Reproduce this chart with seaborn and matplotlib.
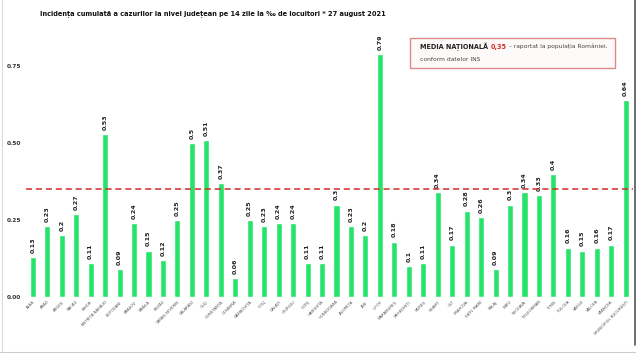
import matplotlib
matplotlib.use("Agg")
import matplotlib.pyplot as plt
import seaborn as sns
import pandas as pd
from matplotlib.patches import Rectangle

# Date: incidenta pe judete
judete = ['ALBA', 'ARAD', 'ARGEȘ', 'BACĂU', 'BIHOR', 'BISTRIȚA-NĂSĂUD', 'BOTOȘANI', 'BRAȘOV',
          'BRĂILA', 'BUZĂU', 'CARAȘ-SEVERIN', 'CĂLĂRAȘI', 'CLUJ', 'CONSTANȚA', 'COVASNA',
          'DÂMBOVIȚA', 'DOLJ', 'GALAȚI', 'GIURGIU', 'GORJ', 'HARGHITA', 'HUNEDOARA', 'IALOMIȚA',
          'IAȘI', 'ILFOV', 'MARAMUREȘ', 'MEHEDINȚI', 'MUREȘ', 'NEAMȚ', 'OLT', 'PRAHOVA',
          'SATU MARE', 'SĂLAJ', 'SIBIU', 'SUCEAVA', 'TELEORMAN', 'TIMIȘ', 'TULCEA', 'VASLUI',
          'VÂLCEA', 'VRANCEA', 'MUNICIPIUL BUCUREȘTI']
incidenta = [0.13, 0.23, 0.2, 0.27, 0.11, 0.53, 0.09, 0.24, 0.15, 0.12, 0.25, 0.5, 0.51, 0.37,
             0.06, 0.25, 0.23, 0.24, 0.24, 0.11, 0.11, 0.3, 0.23, 0.2, 0.79, 0.18, 0.1, 0.11,
             0.34, 0.17, 0.28, 0.26, 0.09, 0.3, 0.34, 0.33, 0.4, 0.16, 0.15, 0.16, 0.17, 0.64]
media_nationala = 0.35
yticks = [0.0, 0.25, 0.5, 0.75]

df = pd.DataFrame({'judet': judete, 'incidenta': incidenta})

sns.set_style("white")
fig = plt.figure(figsize=(6.4, 3.59), dpi=100)
ax = fig.add_axes([0.04, 0.173, 0.949, 0.771])

sns.barplot(data=df, x='judet', y='incidenta', color='#27e36a', saturation=1,
            width=0.42, ax=ax)

# etichete valori
for i, v in enumerate(incidenta):
    ax.text(i, v + 0.014, f"{v:g}", rotation=90, ha='center', va='bottom',
            fontsize=4.6, fontweight='bold', color='#222222')

ax.axhline(media_nationala, color='#d42a2a', linestyle=(0, (4, 2.5)), linewidth=1.1, zorder=3)

ax.set_xlim(-0.5, len(judete) - 0.5)
ax.set_ylim(0, 0.9)
ax.set_yticks(yticks)
ax.set_yticklabels([f"{t:.2f}" for t in yticks], fontsize=4.2, fontweight='bold', color='#333333')
ax.set_xticks(range(len(judete)))
ax.set_xticklabels(judete, rotation=45, ha='right', rotation_mode='anchor',
                   fontsize=2.8, color='#555555')
ax.tick_params(axis='both', length=0, pad=2)
ax.tick_params(axis='y', pad=3)
ax.set_xlabel('')
ax.set_ylabel('')
for s in ax.spines.values():
    s.set_visible(False)

# titlu
fig.text(0.063, 0.962, 'Incidența cumulată a cazurilor la nivel județean pe 14 zile la ‰ de locuitori * 27 august 2021',
         fontsize=4.8, fontweight='bold', color='#111111', ha='left', va='center')

# caseta media nationala
fig.patches.append(Rectangle((0.641, 0.81), 0.32, 0.083, transform=fig.transFigure,
                             facecolor='#fffafa', edgecolor='#d98a8a', linewidth=1.0))
t1 = fig.text(0.657, 0.87, 'MEDIA NAȚIONALĂ ', fontsize=4.7, fontweight='bold', color='#222222',
              ha='left', va='center')
fig.canvas.draw()
r = fig.canvas.get_renderer()
bb = t1.get_window_extent(r)
x2 = bb.x1 / fig.bbox.width
t2 = fig.text(x2, 0.87, '0,35', fontsize=4.7, fontweight='bold', color='#d42a2a', ha='left', va='center')
bb2 = t2.get_window_extent(r)
x3 = bb2.x1 / fig.bbox.width
fig.text(x3, 0.87, ' – raportat la populația României,', fontsize=4.3, color='#444444',
         ha='left', va='center')
fig.text(0.657, 0.835, 'conform datelor INS', fontsize=4.3, color='#444444', ha='left', va='center')

# chenar imagine
fig.add_artist(plt.Line2D([0.992, 0.992], [0.04, 1.0], transform=fig.transFigure, color='#555555', linewidth=1.2))
fig.add_artist(plt.Line2D([0.0, 0.992], [0.02, 0.02], transform=fig.transFigure, color='#cccccc', linewidth=0.8))
fig.add_artist(plt.Line2D([0.003, 0.003], [0.02, 1.0], transform=fig.transFigure, color='#dddddd', linewidth=0.8))

fig.savefig('out.png', dpi=100)
